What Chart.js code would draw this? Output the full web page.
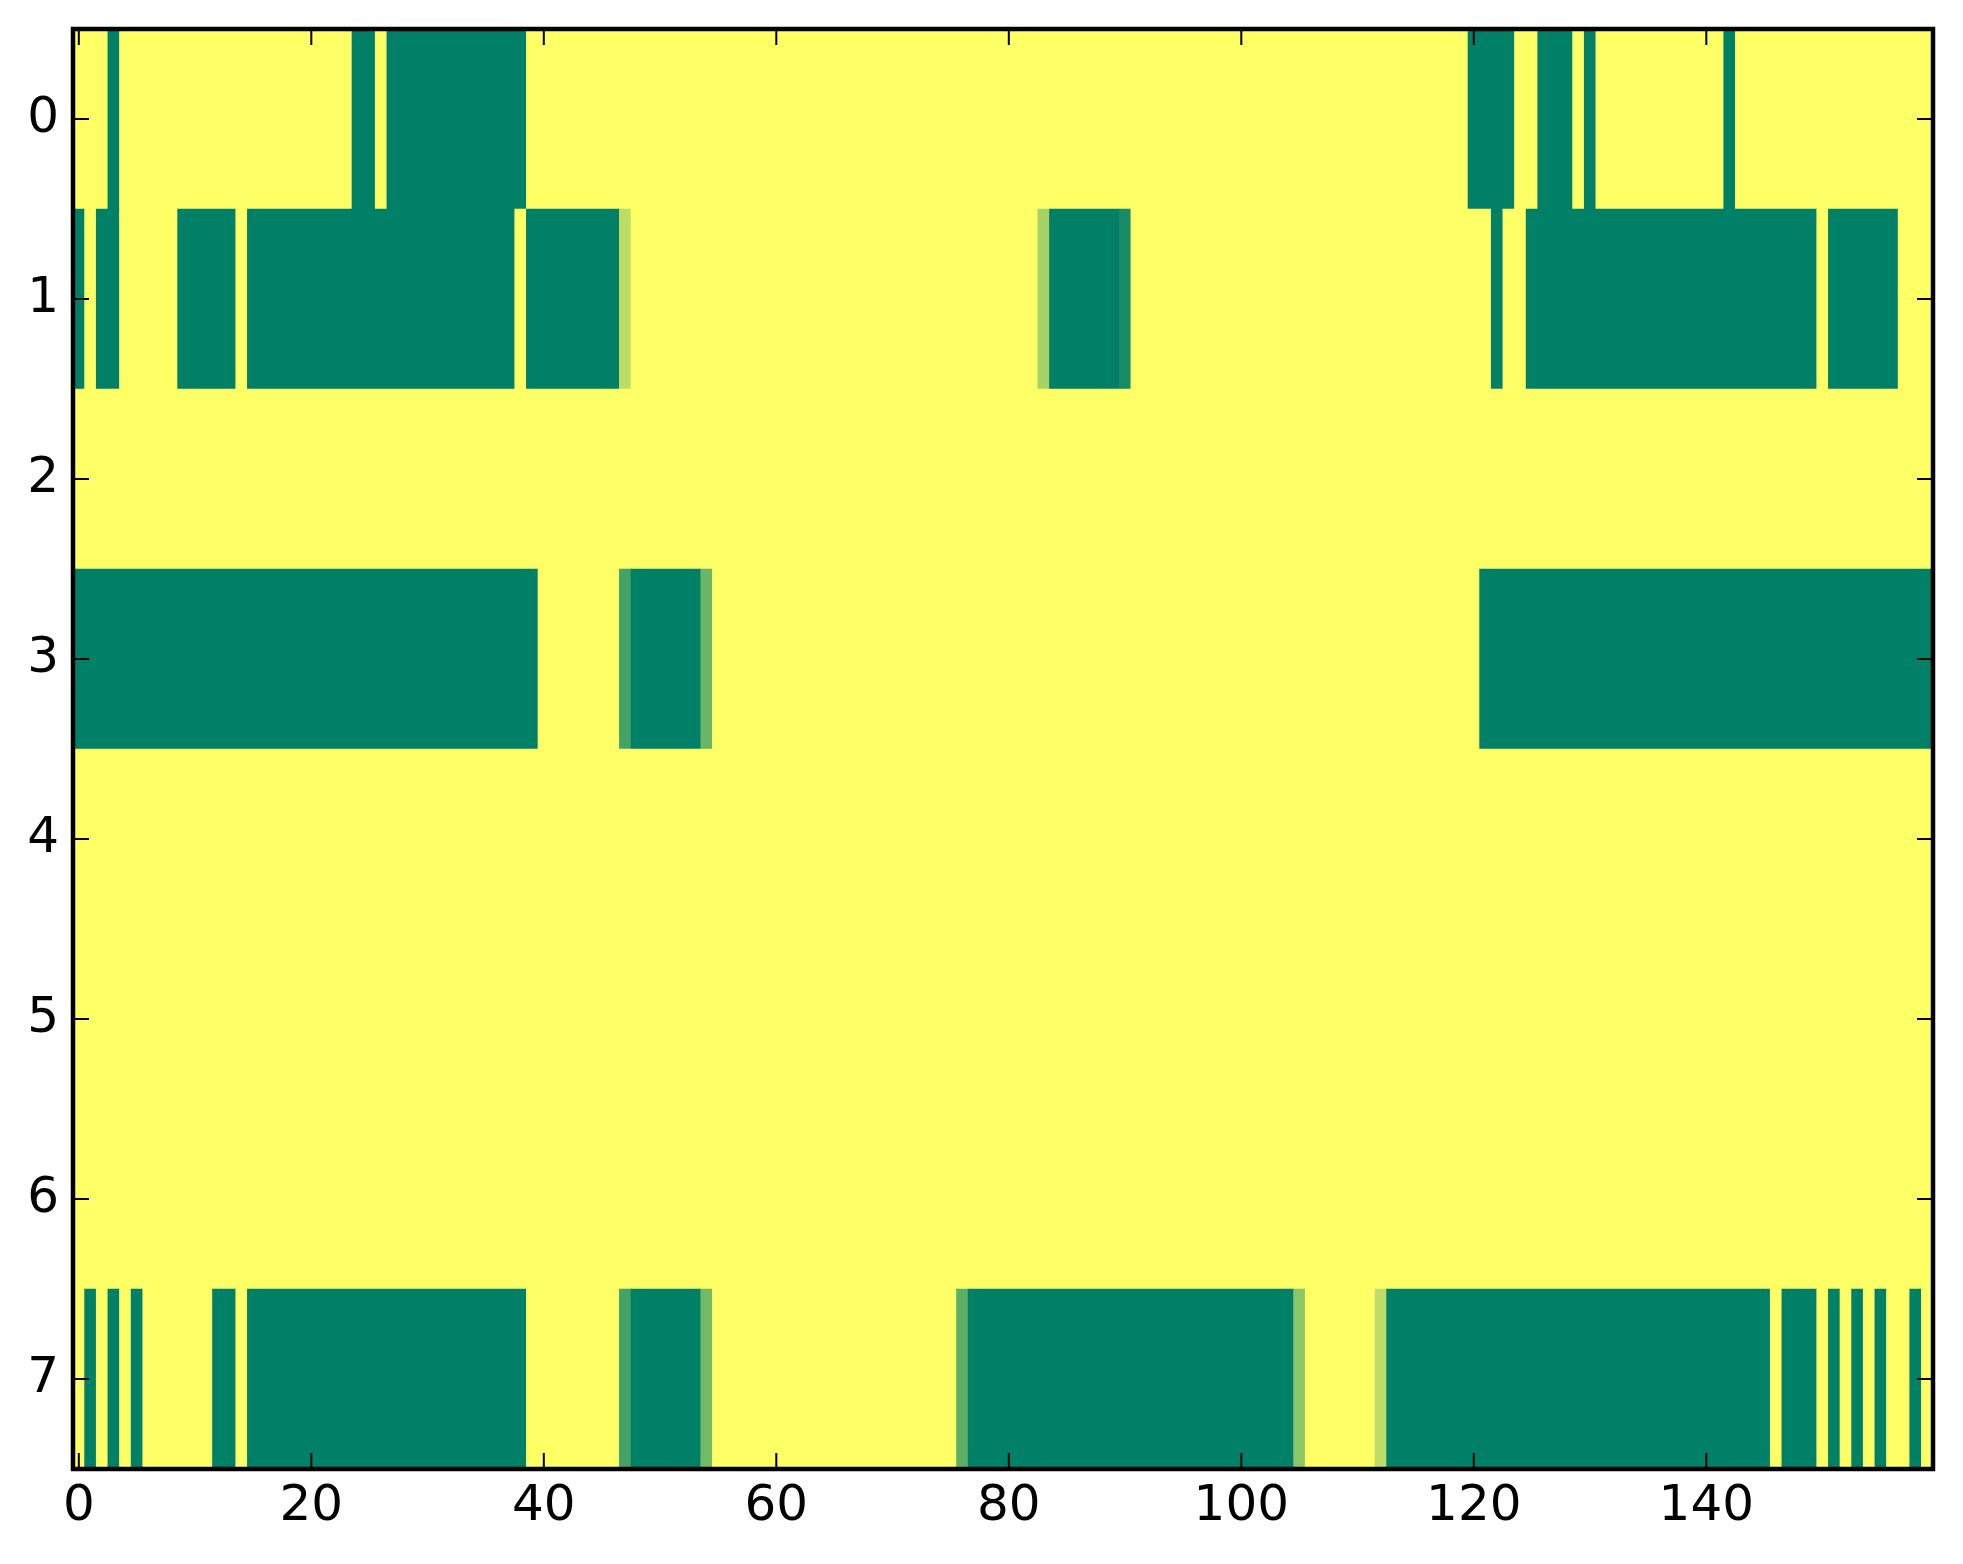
<!DOCTYPE html>
<html>
<head>
<meta charset="utf-8">
<script src="https://cdn.jsdelivr.net/npm/chart.js@4.4.1/dist/chart.umd.min.js"></script>
<style>
  html, body { margin: 0; padding: 0; background: #fff; }
  #wrap { width: 1963px; height: 1564px; }
</style>
</head>
<body>
<div id="wrap"><canvas id="heat" width="1963" height="1564"></canvas></div>
<script>
// row labels (top to bottom) and x tick labels
const rowLabels = ['0', '1', '2', '3', '4', '5', '6', '7'];
const xTicks = [0, 20, 40, 60, 80, 100, 120, 140];

// cell values per row, 160 columns each (0 = green, 1 = yellow)
const row0 = [
  1, 1, 1, 0, 1, 1, 1, 1, 1, 1, 1, 1, 1, 1, 1, 1, 1, 1, 1, 1,
  1, 1, 1, 1, 0, 0, 1, 0, 0, 0, 0, 0, 0, 0, 0, 0, 0, 0, 0, 1,
  1, 1, 1, 1, 1, 1, 1, 1, 1, 1, 1, 1, 1, 1, 1, 1, 1, 1, 1, 1,
  1, 1, 1, 1, 1, 1, 1, 1, 1, 1, 1, 1, 1, 1, 1, 1, 1, 1, 1, 1,
  1, 1, 1, 1, 1, 1, 1, 1, 1, 1, 1, 1, 1, 1, 1, 1, 1, 1, 1, 1,
  1, 1, 1, 1, 1, 1, 1, 1, 1, 1, 1, 1, 1, 1, 1, 1, 1, 1, 1, 1,
  0, 0, 0, 0, 1, 1, 0, 0, 0, 1, 0, 1, 1, 1, 1, 1, 1, 1, 1, 1,
  1, 1, 0, 1, 1, 1, 1, 1, 1, 1, 1, 1, 1, 1, 1, 1, 1, 1, 1, 1
];
const row1 = [
  0, 1, 0, 0, 1, 1, 1, 1, 1, 0, 0, 0, 0, 0, 1, 0, 0, 0, 0, 0,
  0, 0, 0, 0, 0, 0, 0, 0, 0, 0, 0, 0, 0, 0, 0, 0, 0, 0, 1, 0,
  0, 0, 0, 0, 0, 0, 0, 0.74, 1, 1, 1, 1, 1, 1, 1, 1, 1, 1, 1, 1,
  1, 1, 1, 1, 1, 1, 1, 1, 1, 1, 1, 1, 1, 1, 1, 1, 1, 1, 1, 1,
  1, 1, 1, 0.65, 0, 0, 0, 0, 0, 0, 0.09, 1, 1, 1, 1, 1, 1, 1, 1, 1,
  1, 1, 1, 1, 1, 1, 1, 1, 1, 1, 1, 1, 1, 1, 1, 1, 1, 1, 1, 1,
  1, 1, 0, 1, 1, 0, 0, 0, 0, 0, 0, 0, 0, 0, 0, 0, 0, 0, 0, 0,
  0, 0, 0, 0, 0, 0, 0, 0, 0, 0, 1, 0, 0, 0, 0, 0, 0, 1, 1, 1
];
const row2 = [
  1, 1, 1, 1, 1, 1, 1, 1, 1, 1, 1, 1, 1, 1, 1, 1, 1, 1, 1, 1,
  1, 1, 1, 1, 1, 1, 1, 1, 1, 1, 1, 1, 1, 1, 1, 1, 1, 1, 1, 1,
  1, 1, 1, 1, 1, 1, 1, 1, 1, 1, 1, 1, 1, 1, 1, 1, 1, 1, 1, 1,
  1, 1, 1, 1, 1, 1, 1, 1, 1, 1, 1, 1, 1, 1, 1, 1, 1, 1, 1, 1,
  1, 1, 1, 1, 1, 1, 1, 1, 1, 1, 1, 1, 1, 1, 1, 1, 1, 1, 1, 1,
  1, 1, 1, 1, 1, 1, 1, 1, 1, 1, 1, 1, 1, 1, 1, 1, 1, 1, 1, 1,
  1, 1, 1, 1, 1, 1, 1, 1, 1, 1, 1, 1, 1, 1, 1, 1, 1, 1, 1, 1,
  1, 1, 1, 1, 1, 1, 1, 1, 1, 1, 1, 1, 1, 1, 1, 1, 1, 1, 1, 1
];
const row3 = [
  0, 0, 0, 0, 0, 0, 0, 0, 0, 0, 0, 0, 0, 0, 0, 0, 0, 0, 0, 0,
  0, 0, 0, 0, 0, 0, 0, 0, 0, 0, 0, 0, 0, 0, 0, 0, 0, 0, 0, 0,
  1, 1, 1, 1, 1, 1, 1, 0.27, 0, 0, 0, 0, 0, 0, 0.42, 1, 1, 1, 1, 1,
  1, 1, 1, 1, 1, 1, 1, 1, 1, 1, 1, 1, 1, 1, 1, 1, 1, 1, 1, 1,
  1, 1, 1, 1, 1, 1, 1, 1, 1, 1, 1, 1, 1, 1, 1, 1, 1, 1, 1, 1,
  1, 1, 1, 1, 1, 1, 1, 1, 1, 1, 1, 1, 1, 1, 1, 1, 1, 1, 1, 1,
  1, 0, 0, 0, 0, 0, 0, 0, 0, 0, 0, 0, 0, 0, 0, 0, 0, 0, 0, 0,
  0, 0, 0, 0, 0, 0, 0, 0, 0, 0, 0, 0, 0, 0, 0, 0, 0, 0, 0, 0
];
const row4 = [
  1, 1, 1, 1, 1, 1, 1, 1, 1, 1, 1, 1, 1, 1, 1, 1, 1, 1, 1, 1,
  1, 1, 1, 1, 1, 1, 1, 1, 1, 1, 1, 1, 1, 1, 1, 1, 1, 1, 1, 1,
  1, 1, 1, 1, 1, 1, 1, 1, 1, 1, 1, 1, 1, 1, 1, 1, 1, 1, 1, 1,
  1, 1, 1, 1, 1, 1, 1, 1, 1, 1, 1, 1, 1, 1, 1, 1, 1, 1, 1, 1,
  1, 1, 1, 1, 1, 1, 1, 1, 1, 1, 1, 1, 1, 1, 1, 1, 1, 1, 1, 1,
  1, 1, 1, 1, 1, 1, 1, 1, 1, 1, 1, 1, 1, 1, 1, 1, 1, 1, 1, 1,
  1, 1, 1, 1, 1, 1, 1, 1, 1, 1, 1, 1, 1, 1, 1, 1, 1, 1, 1, 1,
  1, 1, 1, 1, 1, 1, 1, 1, 1, 1, 1, 1, 1, 1, 1, 1, 1, 1, 1, 1
];
const row5 = [
  1, 1, 1, 1, 1, 1, 1, 1, 1, 1, 1, 1, 1, 1, 1, 1, 1, 1, 1, 1,
  1, 1, 1, 1, 1, 1, 1, 1, 1, 1, 1, 1, 1, 1, 1, 1, 1, 1, 1, 1,
  1, 1, 1, 1, 1, 1, 1, 1, 1, 1, 1, 1, 1, 1, 1, 1, 1, 1, 1, 1,
  1, 1, 1, 1, 1, 1, 1, 1, 1, 1, 1, 1, 1, 1, 1, 1, 1, 1, 1, 1,
  1, 1, 1, 1, 1, 1, 1, 1, 1, 1, 1, 1, 1, 1, 1, 1, 1, 1, 1, 1,
  1, 1, 1, 1, 1, 1, 1, 1, 1, 1, 1, 1, 1, 1, 1, 1, 1, 1, 1, 1,
  1, 1, 1, 1, 1, 1, 1, 1, 1, 1, 1, 1, 1, 1, 1, 1, 1, 1, 1, 1,
  1, 1, 1, 1, 1, 1, 1, 1, 1, 1, 1, 1, 1, 1, 1, 1, 1, 1, 1, 1
];
const row6 = [
  1, 1, 1, 1, 1, 1, 1, 1, 1, 1, 1, 1, 1, 1, 1, 1, 1, 1, 1, 1,
  1, 1, 1, 1, 1, 1, 1, 1, 1, 1, 1, 1, 1, 1, 1, 1, 1, 1, 1, 1,
  1, 1, 1, 1, 1, 1, 1, 1, 1, 1, 1, 1, 1, 1, 1, 1, 1, 1, 1, 1,
  1, 1, 1, 1, 1, 1, 1, 1, 1, 1, 1, 1, 1, 1, 1, 1, 1, 1, 1, 1,
  1, 1, 1, 1, 1, 1, 1, 1, 1, 1, 1, 1, 1, 1, 1, 1, 1, 1, 1, 1,
  1, 1, 1, 1, 1, 1, 1, 1, 1, 1, 1, 1, 1, 1, 1, 1, 1, 1, 1, 1,
  1, 1, 1, 1, 1, 1, 1, 1, 1, 1, 1, 1, 1, 1, 1, 1, 1, 1, 1, 1,
  1, 1, 1, 1, 1, 1, 1, 1, 1, 1, 1, 1, 1, 1, 1, 1, 1, 1, 1, 1
];
const row7 = [
  1, 0, 1, 0, 1, 0, 1, 1, 1, 1, 1, 1, 0, 0, 1, 0, 0, 0, 0, 0,
  0, 0, 0, 0, 0, 0, 0, 0, 0, 0, 0, 0, 0, 0, 0, 0, 0, 0, 0, 1,
  1, 1, 1, 1, 1, 1, 1, 0.27, 0, 0, 0, 0, 0, 0, 0.45, 1, 1, 1, 1, 1,
  1, 1, 1, 1, 1, 1, 1, 1, 1, 1, 1, 1, 1, 1, 1, 1, 0.37, 0, 0, 0,
  0, 0, 0, 0, 0, 0, 0, 0, 0, 0, 0, 0, 0, 0, 0, 0, 0, 0, 0, 0,
  0, 0, 0, 0, 0, 0.55, 1, 1, 1, 1, 1, 1, 0.74, 0, 0, 0, 0, 0, 0, 0,
  0, 0, 0, 0, 0, 0, 0, 0, 0, 0, 0, 0, 0, 0, 0, 0, 0, 0, 0, 0,
  0, 0, 0, 0, 0, 0, 1, 0, 0, 0, 1, 0, 1, 0, 1, 0, 1, 1, 0, 1
];

const rows = [row0, row1, row2, row3, row4, row5, row6, row7];

// matplotlib "summer" colormap
function summer(v) {
  return 'rgb(' + Math.round(255 * v) + ',' + Math.round(255 * (0.5 + 0.5 * v)) + ',102)';
}

// one floating bar per run of equal cells in a row
const cells = [];
const colors = [];
rows.forEach(function(vals, r) {
  let start = 0;
  for (let c = 1; c <= vals.length; c++) {
    if (c === vals.length || vals[c] !== vals[start]) {
      cells.push({ y: rowLabels[r], x: [start - 0.5, c - 0.5] });
      colors.push(summer(vals[start]));
      start = c;
    }
  }
});

// frame and inward ticks on all four sides
const frame = {
  id: 'frame',
  afterDraw(chart) {
    const ctx = chart.ctx;
    const a = chart.chartArea;
    const xs = chart.scales.x;
    const ys = chart.scales.y;
    ctx.save();
    ctx.strokeStyle = '#000';
    ctx.lineWidth = 2;
    ctx.beginPath();
    xTicks.forEach(function(v) {
      const px = xs.getPixelForValue(v);
      ctx.moveTo(px, a.top); ctx.lineTo(px, a.top + 16);
      ctx.moveTo(px, a.bottom); ctx.lineTo(px, a.bottom - 16);
    });
    rowLabels.forEach(function(l, i) {
      const py = ys.getPixelForValue(i);
      ctx.moveTo(a.left, py); ctx.lineTo(a.left + 16, py);
      ctx.moveTo(a.right, py); ctx.lineTo(a.right - 16, py);
    });
    ctx.stroke();
    ctx.lineWidth = 4.5;
    ctx.strokeRect(a.left, a.top, a.right - a.left, a.bottom - a.top);
    ctx.restore();
  }
};

Chart.defaults.font.family = 'DejaVu Sans';
Chart.defaults.color = '#000';

const ctx = document.getElementById('heat').getContext('2d');
new Chart(ctx, {
  type: 'bar',
  data: {
    labels: rowLabels,
    datasets: [{
      data: cells,
      backgroundColor: colors,
      borderWidth: 0,
      borderSkipped: false,
      barPercentage: 1,
      categoryPercentage: 1
    }]
  },
  options: {
    indexAxis: 'y',
    responsive: false,
    animation: false,
    devicePixelRatio: 1,
    layout: { padding: { top: 29, right: 30, left: 0, bottom: 0 } },
    plugins: {
      legend: { display: false },
      tooltip: { enabled: false }
    },
    scales: {
      x: {
        type: 'linear',
        min: -0.5,
        max: 159.5,
        afterBuildTicks: function(s) { s.ticks = xTicks.map(function(v) { return { value: v }; }); },
        afterFit: function(s) { s.height = 95; s.paddingLeft = 0; s.paddingRight = 0; },
        grid: { display: false, drawTicks: false },
        border: { display: false },
        ticks: { padding: 8, font: { size: 50 }, color: '#000', maxRotation: 0, autoSkip: false }
      },
      y: {
        type: 'category',
        offset: true,
        afterFit: function(s) { s.width = 73; s.paddingTop = 0; s.paddingBottom = 0; },
        grid: { display: false, drawTicks: false, offset: true },
        border: { display: false },
        ticks: { padding: 14, font: { size: 50 }, color: '#000' }
      }
    }
  },
  plugins: [frame]
});
</script>
</body>
</html>
